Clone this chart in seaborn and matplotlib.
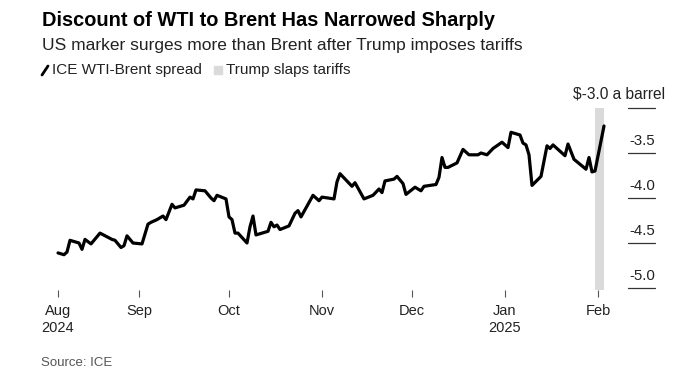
import pandas as pd
import numpy as np
import seaborn as sns
import matplotlib.pyplot as plt
import matplotlib.transforms as mtransforms
from matplotlib.lines import Line2D
from matplotlib.patches import Rectangle

# Spread values (USD a barrel)
dates = [
    '2024-08-05', '2024-08-07', '2024-08-08', '2024-08-09', '2024-08-12', '2024-08-13',
    '2024-08-14', '2024-08-16', '2024-08-19', '2024-08-23', '2024-08-24', '2024-08-26',
    '2024-08-27', '2024-08-28', '2024-08-30', '2024-09-02', '2024-09-04', '2024-09-05',
    '2024-09-07', '2024-09-09', '2024-09-10', '2024-09-12', '2024-09-13', '2024-09-16',
    '2024-09-18', '2024-09-19', '2024-09-20', '2024-09-23', '2024-09-25', '2024-09-26',
    '2024-09-27', '2024-09-30', '2024-10-01', '2024-10-02', '2024-10-03', '2024-10-04',
    '2024-10-07', '2024-10-08', '2024-10-09', '2024-10-10', '2024-10-14', '2024-10-15',
    '2024-10-16', '2024-10-17', '2024-10-18', '2024-10-21', '2024-10-23', '2024-10-24',
    '2024-10-25', '2024-10-29', '2024-10-31', '2024-11-01', '2024-11-05', '2024-11-06',
    '2024-11-07', '2024-11-11', '2024-11-12', '2024-11-15', '2024-11-18', '2024-11-20',
    '2024-11-21', '2024-11-22', '2024-11-25', '2024-11-26', '2024-11-28', '2024-11-29',
    '2024-12-02', '2024-12-04', '2024-12-05', '2024-12-09', '2024-12-10', '2024-12-11',
    '2024-12-12', '2024-12-13', '2024-12-16', '2024-12-18', '2024-12-20', '2024-12-23',
    '2024-12-24', '2024-12-26', '2024-12-28', '2024-12-31', '2025-01-02', '2025-01-03',
    '2025-01-06', '2025-01-07', '2025-01-08', '2025-01-09', '2025-01-10', '2025-01-13',
    '2025-01-15', '2025-01-16', '2025-01-17', '2025-01-21', '2025-01-22', '2025-01-24',
    '2025-01-28', '2025-01-29', '2025-01-30', '2025-01-31', '2025-02-03',
]
spread = [
    -4.61, -4.63, -4.60, -4.47, -4.50, -4.57,
    -4.46, -4.51, -4.39, -4.46, -4.47, -4.55,
    -4.53, -4.42, -4.50, -4.51, -4.29, -4.27,
    -4.24, -4.20, -4.24, -4.07, -4.11, -4.08,
    -3.99, -4.01, -3.91, -3.92, -4.00, -4.03,
    -3.97, -4.01, -4.21, -4.24, -4.39, -4.39,
    -4.50, -4.32, -4.20, -4.41, -4.37, -4.27,
    -4.32, -4.30, -4.35, -4.31, -4.17, -4.14,
    -4.21, -3.97, -4.03, -3.99, -4.01, -3.82,
    -3.73, -3.87, -3.83, -4.01, -3.97, -3.90,
    -3.94, -3.81, -3.79, -3.76, -3.84, -3.96,
    -3.88, -3.92, -3.87, -3.85, -3.77, -3.55,
    -3.66, -3.66, -3.61, -3.46, -3.52, -3.52,
    -3.50, -3.52, -3.45, -3.38, -3.44, -3.27,
    -3.30, -3.39, -3.41, -3.52, -3.86, -3.76,
    -3.42, -3.45, -3.41, -3.53, -3.40, -3.57,
    -3.68, -3.55, -3.71, -3.70, -3.20,
]

tariff_span = ['2025-01-31', '2025-02-03']
tick_dates = ['2024-08-05', '2024-09-01', '2024-10-01', '2024-11-01',
              '2024-12-01', '2025-01-01', '2025-02-01']
tick_labels = ['Aug\n2024', 'Sep', 'Oct', 'Nov', 'Dec', 'Jan\n2025', 'Feb']
y_ticks = [-3.0, -3.5, -4.0, -4.5, -5.0]
y_labels = ['$-3.0 a barrel', '-3.5', '-4.0', '-4.5', '-5.0']

df = pd.DataFrame({'date': pd.to_datetime(dates), 'spread': spread})

sns.set_style('white')
plt.rcParams['font.family'] = ['Liberation Sans', 'DejaVu Sans']

W, H = 680, 380
fig = plt.figure(figsize=(W / 100, H / 100), dpi=100)
ax_l, ax_r, ax_t, ax_b = 52, 607, 108, 290
ax = fig.add_axes([ax_l / W, 1 - ax_b / H, (ax_r - ax_l) / W, (ax_b - ax_t) / H])

ax.axvspan(pd.Timestamp(tariff_span[0]), pd.Timestamp(tariff_span[1]),
           color='#dadada', lw=0, zorder=0)
sns.lineplot(data=df, x='date', y='spread', ax=ax, color='black', lw=2.3, zorder=3)

ax.set_xlim(pd.Timestamp('2024-08-03'), pd.Timestamp('2025-02-04'))
ax.set_ylim(-5.022, -3.0)
ax.set_xlabel('')
ax.set_ylabel('')
sns.despine(ax=ax, left=True, bottom=True, right=True, top=True)

ax.set_xticks(pd.to_datetime(tick_dates))
ax.set_xticklabels(tick_labels, fontsize=10.5, color='#222222', linespacing=1.3)
ax.tick_params(axis='x', length=5, width=0.8, color='#555555', pad=5, bottom=True)
ax.set_yticks([])

# right-hand value labels sitting above short rule lines
blend = mtransforms.blended_transform_factory(ax.transAxes, ax.transData)
x0 = (628 - ax_l) / (ax_r - ax_l)
x1 = (655 - ax_l) / (ax_r - ax_l)
xr = (665 - ax_l) / (ax_r - ax_l)
for v, lab in zip(y_ticks, y_labels):
    ax.plot([x0, x1], [v, v], transform=blend, color='#333333', lw=0.9, clip_on=False)
    if lab.startswith('$'):
        ax.annotate(lab, xy=(xr, v), xycoords=blend, xytext=(0, 10), textcoords='offset points',
                    ha='right', va='center', fontsize=11.2, color='#222222')
    else:
        ax.annotate(lab, xy=(x0, v), xycoords=blend, xytext=(1, 9), textcoords='offset points',
                    ha='left', va='center', fontsize=10.8, color='#222222')

# headline block
fig.text(42 / W, 1 - 26 / H, 'Discount of WTI to Brent Has Narrowed Sharply',
         fontsize=14.4, fontweight='bold', color='black', va='baseline')
fig.text(42 / W, 1 - 50 / H, 'US marker surges more than Brent after Trump imposes tariffs',
         fontsize=12.5, color='#222222', va='baseline')

# legend
fig.add_artist(Line2D([42 / W, 48 / W], [1 - 75 / H, 1 - 66 / H], color='black', lw=2,
                      transform=fig.transFigure))
fig.text(52 / W, 1 - 70 / H, 'ICE WTI-Brent spread', fontsize=11, color='#222222', va='center')
fig.add_artist(Rectangle((214 / W, 1 - 74 / H), 8 / W, 8 / H, color='#dadada',
                         transform=fig.transFigure))
fig.text(226 / W, 1 - 70 / H, 'Trump slaps tariffs', fontsize=11, color='#222222', va='center')

fig.text(41 / W, 1 - 363 / H, 'Source: ICE', fontsize=9.5, color='#555555', va='center')

fig.savefig('out.png', dpi=100)
